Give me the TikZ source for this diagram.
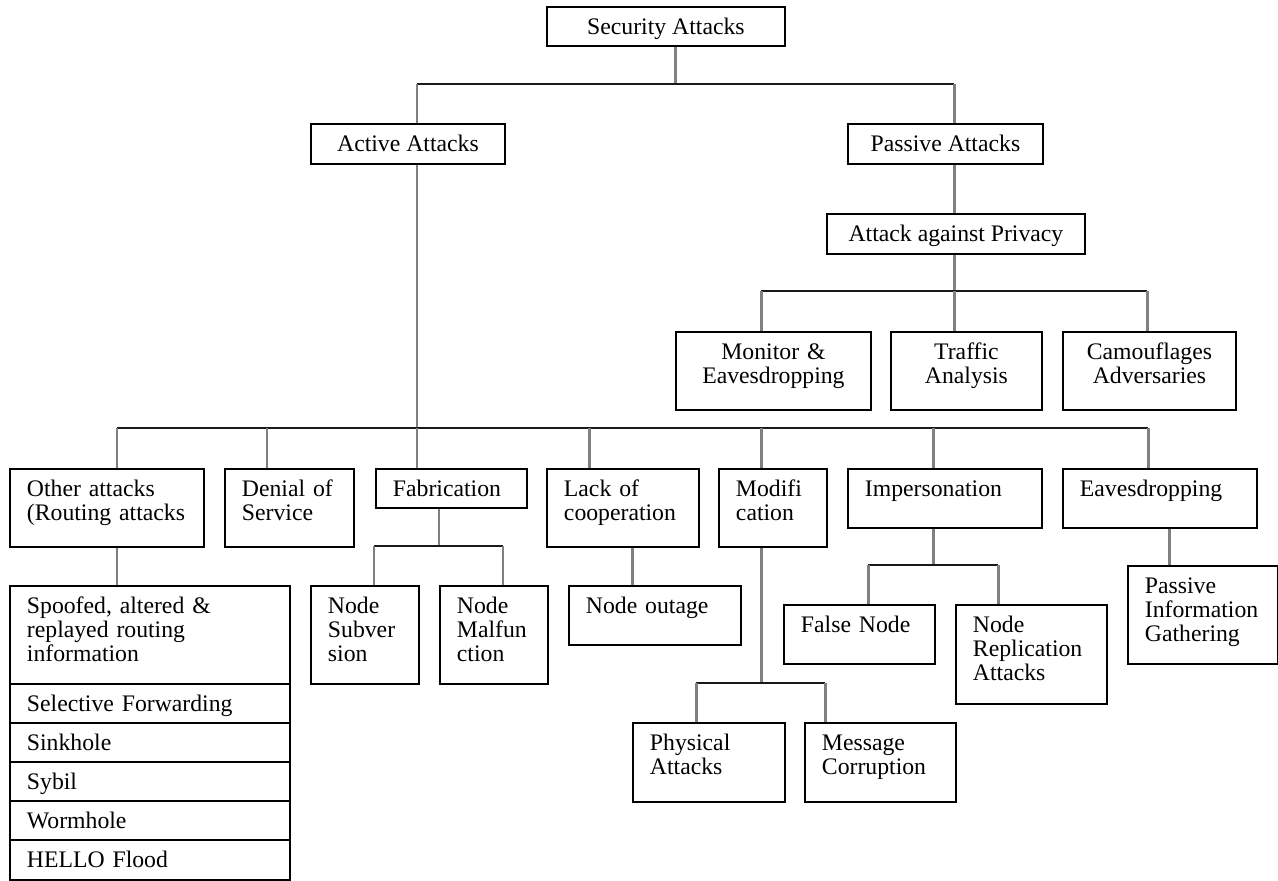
\documentclass[tikz,border=0pt]{standalone}
\usepackage{fontspec}
\setmainfont{Liberation Serif}
\usepackage{tikz}

\begin{document}
\begin{tikzpicture}[x=0.02cm,y=-0.02cm,
	box/.style={shape=rectangle,draw=black,line width=1.1pt,inner sep=0pt,anchor=north west,text height=0.56cm,font=\fontsize{13.5}{13.6}\selectfont},
	cbox/.style={box,align=center},
	lbox/.style={box,align=left,inner xsep=0.34cm},
	vline/.style={draw=black!50,line width=1.7pt},
	hline/.style={draw=black!90,line width=1.1pt}]
	\useasboundingbox (0,0) rectangle (1278,880);
	\node[cbox,minimum width=4.76cm,text depth=0.22cm] (root) at (546,6) {Security Attacks};
	\node[cbox,minimum width=3.88cm,text depth=0.24cm] (act) at (310,123) {Active Attacks};
	\node[cbox,minimum width=3.9cm,text depth=0.24cm] (pas) at (847,123) {Passive Attacks};
	\node[cbox,minimum width=5.16cm,text depth=0.24cm] (priv) at (826,213) {Attack against Privacy};
	\node[cbox,text width=3.9cm,text depth=1cm] (mon) at (675,331) {Monitor \&\\Eavesdropping};
	\node[cbox,text width=3.02cm,text depth=1cm] (traf) at (890,331) {Traffic\\Analysis};
	\node[cbox,text width=3.46cm,text depth=1cm] (cam) at (1062,331) {Camouflages\\Adversaries};
	\node[lbox,text width=3.2cm,text depth=1cm] (other) at (9,468) {Other attacks\\(Routing attacks};
	\node[lbox,text width=1.9cm,text depth=1cm] (deny) at (224,468) {Denial of\\Service};
	\node[lbox,text width=2.34cm,text depth=0.22cm] (fab) at (375,468) {Fabrication};
	\node[lbox,text width=2.36cm,text depth=1cm] (lack) at (546,468) {Lack of\\cooperation};
	\node[lbox,text width=1.48cm,text depth=1cm] (modi) at (718,468) {Modifi\\cation};
	\node[lbox,text width=3.2cm,text depth=0.62cm] (imp) at (847,468) {Impersonation};
	\node[lbox,text width=3.2cm,text depth=0.62cm] (eav) at (1062,468) {Eavesdropping};
	\node[lbox,text width=4.92cm,text depth=1.4cm] (spoof) at (9,585) {Spoofed, altered \&\\replayed routing\\information};
	\node[lbox,text width=4.92cm,text depth=0.22cm] (selfw) at (9,683) {Selective Forwarding};
	\node[lbox,text width=4.92cm,text depth=0.22cm] (sink) at (9,722) {Sinkhole};
	\node[lbox,text width=4.92cm,text depth=0.22cm] (sybil) at (9,761) {Sybil};
	\node[lbox,text width=4.92cm,text depth=0.22cm] (worm) at (9,800) {Wormhole};
	\node[lbox,text width=4.92cm,text depth=0.24cm] (hello) at (9,839) {HELLO Flood};
	\node[lbox,text width=1.48cm,text depth=1.4cm] (subv) at (310,585) {Node\\Subver\\sion};
	\node[lbox,text width=1.48cm,text depth=1.4cm] (malf) at (439,585) {Node\\Malfun\\ction};
	\node[lbox,text width=2.76cm,text depth=0.62cm] (outage) at (568,585) {Node outage};
	\node[lbox,text width=2.36cm,text depth=1.02cm] (phys) at (632,722) {Physical\\Attacks};
	\node[lbox,text width=2.34cm,text depth=1.02cm] (msg) at (804,722) {Message\\Corruption};
	\node[lbox,text width=2.34cm,text depth=0.62cm] (fnode) at (783,604) {False Node};
	\node[lbox,text width=2.34cm,text depth=1.42cm] (repl) at (955,604) {Node\\Replication\\Attacks};
	\node[lbox,text width=2.32cm,text depth=1.4cm] (pinfo) at (1127,565) {Passive\\Information\\Gathering};
	\path[vline] (root.south -| 675,0) -- (675,84);
	\path[hline] (417,84) -- (954,84);
	\path[vline] (417,84) -- (act.north -| 417,0);
	\path[vline] (954,84) -- (pas.north -| 954,0);
	\path[vline] (pas.south -| 954,0) -- (priv.north -| 954,0);
	\path[vline] (priv.south -| 954,0) -- (954,291);
	\path[hline] (761,291) -- (1147,291);
	\foreach \n/\x in {mon/761,traf/954,cam/1147}
		\path[vline] (\x,291) -- (\n.north -| \x,0);
	\path[vline] (act.south -| 417,0) -- (417,428);
	\path[hline] (117,428) -- (1148,428);
	\foreach \n/\x in {other/117,deny/267,fab/417,lack/589,modi/761,imp/933,eav/1148}
		\path[vline] (\x,428) -- (\n.north -| \x,0);
	\path[vline] (other.south -| 117,0) -- (spoof.north -| 117,0);
	\path[vline] (fab.south -| 439,0) -- (439,546);
	\path[hline] (374,546) -- (503,546);
	\foreach \n/\x in {subv/374,malf/503}
		\path[vline] (\x,546) -- (\n.north -| \x,0);
	\path[vline] (lack.south -| 632,0) -- (outage.north -| 632,0);
	\path[vline] (modi.south -| 761,0) -- (761,683);
	\path[hline] (696,683) -- (825,683);
	\foreach \n/\x in {phys/696,msg/825}
		\path[vline] (\x,683) -- (\n.north -| \x,0);
	\path[vline] (imp.south -| 933,0) -- (933,565);
	\path[hline] (868,565) -- (998,565);
	\foreach \n/\x in {fnode/868,repl/998}
		\path[vline] (\x,565) -- (\n.north -| \x,0);
	\path[vline] (eav.south -| 1169,0) -- (pinfo.north -| 1169,0);
\end{tikzpicture}
\end{document}
